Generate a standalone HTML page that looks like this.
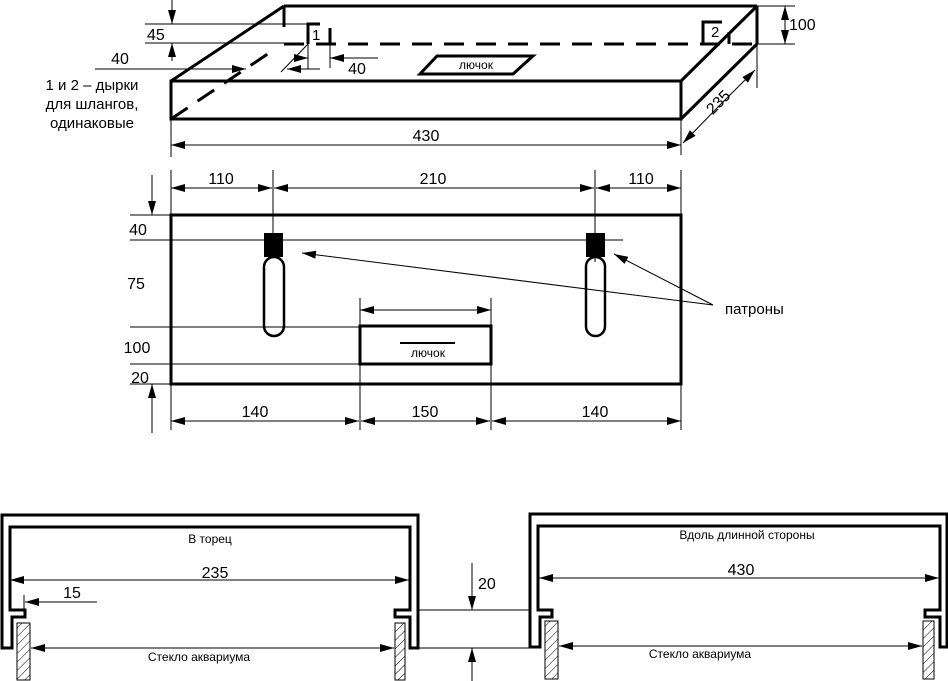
<!DOCTYPE html>
<html><head><meta charset="utf-8"><style>
html,body{margin:0;padding:0;background:#fff;}
svg{display:block;}
text{font-family:"Liberation Sans",Arial,sans-serif;fill:#000;}
</style></head><body>
<svg width="948" height="681" viewBox="0 0 948 681" xmlns="http://www.w3.org/2000/svg">
<defs>
<marker id="a" viewBox="0 0 14 8" refX="14" refY="4" markerWidth="14" markerHeight="8" markerUnits="userSpaceOnUse" orient="auto-start-reverse"><path d="M0,0 L14,4 L0,8 z" fill="#000"/></marker>
<pattern id="h" width="6" height="6" patternUnits="userSpaceOnUse" patternTransform="rotate(45)"><line x1="0" y1="0" x2="0" y2="6" stroke="#000" stroke-width="1"/></pattern>
</defs>
<g fill="none" stroke="#000">
<g stroke-width="3">
<rect x="171" y="81" width="510" height="38"/>
<line x1="171" y1="81" x2="284" y2="6"/>
<line x1="284" y1="6" x2="757" y2="6"/>
<line x1="757" y1="6" x2="757" y2="44"/>
<line x1="681" y1="81" x2="757" y2="6"/>
<line x1="681" y1="119" x2="757" y2="44"/>
<line x1="284" y1="6" x2="284" y2="27"/>
<line x1="284" y1="44" x2="757" y2="44" stroke-dasharray="20,12"/>
<line x1="171" y1="119" x2="275" y2="49" stroke-dasharray="20,12"/>
<polyline points="308,44 308,24 320,24"/>
<line x1="330" y1="28" x2="330" y2="44"/>
<polyline points="703,44 703,22 722,22"/>
<line x1="729" y1="32" x2="729" y2="44"/>
<polygon points="420,74 513,74 533,56 437,56"/>
</g>
<g stroke-width="1">
<line x1="145" y1="24" x2="320" y2="24"/>
<line x1="145" y1="43" x2="284" y2="43"/>
<line x1="172" y1="0" x2="172" y2="24" marker-end="url(#a)"/>
<line x1="172" y1="61" x2="172" y2="43" marker-end="url(#a)"/>
<line x1="95" y1="69" x2="246" y2="69" marker-end="url(#a)"/>
<line x1="320" y1="69" x2="287" y2="69" marker-end="url(#a)"/>
<line x1="308" y1="44" x2="308" y2="69"/>
<line x1="330" y1="28" x2="330" y2="68"/>
<line x1="281" y1="72" x2="308" y2="44"/>
<line x1="295" y1="58" x2="308" y2="58" marker-end="url(#a)"/>
<line x1="378" y1="58" x2="330" y2="58" marker-end="url(#a)"/>
<line x1="757" y1="6" x2="795" y2="6"/>
<line x1="757" y1="44" x2="795" y2="44"/>
<line x1="785" y1="25" x2="785" y2="6" marker-end="url(#a)"/>
<line x1="785" y1="25" x2="785" y2="44" marker-end="url(#a)"/>
<line x1="681" y1="119" x2="681" y2="155"/>
<line x1="757" y1="44" x2="757" y2="88"/>
<line x1="719" y1="106" x2="683" y2="143" marker-end="url(#a)"/>
<line x1="719" y1="106" x2="755" y2="70" marker-end="url(#a)"/>
<line x1="171" y1="119" x2="171" y2="157"/>
<line x1="426" y1="145" x2="171" y2="145" marker-end="url(#a)"/>
<line x1="426" y1="145" x2="681" y2="145" marker-end="url(#a)"/>
</g>
<rect x="171" y="215" width="510" height="169" stroke-width="3"/>
<rect x="360" y="326" width="131" height="38" stroke-width="3"/>
<line x1="400" y1="343" x2="455" y2="343" stroke-width="2"/>
<rect x="264" y="257" width="20" height="79" rx="10" stroke-width="2.5"/>
<rect x="586" y="257" width="19" height="79" rx="9.5" stroke-width="2.5"/>
<g stroke-width="1">
<line x1="171" y1="170" x2="171" y2="215"/>
<line x1="273" y1="170" x2="273" y2="252"/>
<line x1="595" y1="170" x2="595" y2="262"/>
<line x1="681" y1="170" x2="681" y2="430"/>
<line x1="221" y1="188" x2="171" y2="188" marker-end="url(#a)"/>
<line x1="221" y1="188" x2="272" y2="188" marker-end="url(#a)"/>
<line x1="433" y1="188" x2="274" y2="188" marker-end="url(#a)"/>
<line x1="433" y1="188" x2="594" y2="188" marker-end="url(#a)"/>
<line x1="641" y1="188" x2="596" y2="188" marker-end="url(#a)"/>
<line x1="641" y1="188" x2="681" y2="188" marker-end="url(#a)"/>
<line x1="130" y1="215" x2="171" y2="215"/>
<line x1="130" y1="240" x2="623" y2="240"/>
<line x1="130" y1="327" x2="360" y2="327"/>
<line x1="130" y1="364" x2="360" y2="364"/>
<line x1="130" y1="384" x2="171" y2="384"/>
<line x1="152" y1="175" x2="152" y2="215" marker-end="url(#a)"/>
<line x1="152" y1="433" x2="152" y2="384" marker-end="url(#a)"/>
<line x1="360" y1="298" x2="360" y2="430"/>
<line x1="491" y1="298" x2="491" y2="430"/>
<line x1="425" y1="310" x2="360" y2="310" marker-end="url(#a)"/>
<line x1="425" y1="310" x2="491" y2="310" marker-end="url(#a)"/>
<line x1="171" y1="384" x2="171" y2="430"/>
<line x1="255" y1="421" x2="171" y2="421" marker-end="url(#a)"/>
<line x1="255" y1="421" x2="359" y2="421" marker-end="url(#a)"/>
<line x1="425" y1="421" x2="361" y2="421" marker-end="url(#a)"/>
<line x1="425" y1="421" x2="490" y2="421" marker-end="url(#a)"/>
<line x1="595" y1="421" x2="492" y2="421" marker-end="url(#a)"/>
<line x1="595" y1="421" x2="681" y2="421" marker-end="url(#a)"/>
<line x1="713" y1="305" x2="302" y2="253" marker-end="url(#a)"/>
<line x1="713" y1="305" x2="614" y2="254" marker-end="url(#a)"/>
</g>
<path d="M2,648 L2,515 L418,515 L418,648 L410,648 L410,617 L395,617 L395,610 L410,610 L410,527 L10,527 L10,610 L25,610 L25,617 L12,617 L12,648 Z" stroke-width="3"/>
<path d="M530,647 L530,514 L947,514 L947,647 L940,647 L940,617 L925,617 L925,610 L940,610 L940,526 L538,526 L538,610 L552,610 L552,617 L540,617 L540,647 Z" stroke-width="3"/>
<g stroke-width="1">
<rect x="17" y="623" width="13" height="57" fill="url(#h)"/>
<rect x="395" y="623" width="10" height="57" fill="url(#h)"/>
<rect x="545" y="621" width="13" height="58" fill="url(#h)"/>
<rect x="923" y="621" width="11" height="58" fill="url(#h)"/>
<line x1="210" y1="580" x2="10" y2="580" marker-end="url(#a)"/>
<line x1="210" y1="580" x2="409" y2="580" marker-end="url(#a)"/>
<line x1="24" y1="595" x2="24" y2="612"/>
<line x1="97" y1="602" x2="25" y2="602" marker-end="url(#a)"/>
<line x1="210" y1="648" x2="31" y2="648" marker-end="url(#a)"/>
<line x1="210" y1="648" x2="394" y2="648" marker-end="url(#a)"/>
<line x1="418" y1="610" x2="530" y2="610"/>
<line x1="418" y1="648" x2="530" y2="648"/>
<line x1="472" y1="563" x2="472" y2="610" marker-end="url(#a)"/>
<line x1="472" y1="681" x2="472" y2="648" marker-end="url(#a)"/>
<line x1="740" y1="578" x2="539" y2="578" marker-end="url(#a)"/>
<line x1="740" y1="578" x2="939" y2="578" marker-end="url(#a)"/>
<line x1="740" y1="646" x2="559" y2="646" marker-end="url(#a)"/>
<line x1="740" y1="646" x2="922" y2="646" marker-end="url(#a)"/>
</g>
</g>
<rect x="264" y="233" width="19" height="24" fill="#000"/>
<rect x="586" y="233" width="19" height="24" fill="#000"/>
<g font-size="16">
<text x="147" y="40">45</text>
<text x="120" y="64" text-anchor="middle">40</text>
<text x="357" y="74" text-anchor="middle">40</text>
<text x="312" y="40" font-size="15">1</text>
<text x="711" y="37" font-size="15">2</text>
<text x="789" y="30">100</text>
<text x="426" y="141" text-anchor="middle">430</text>
<text x="0" y="0" transform="translate(722,106) rotate(-45)" text-anchor="middle">235</text>
<text x="221" y="184" text-anchor="middle">110</text>
<text x="433" y="184" text-anchor="middle">210</text>
<text x="641" y="184" text-anchor="middle">110</text>
<text x="138" y="235" text-anchor="middle">40</text>
<text x="136" y="289" text-anchor="middle">75</text>
<text x="137" y="353" text-anchor="middle">100</text>
<text x="140" y="383" text-anchor="middle">20</text>
<text x="255" y="417" text-anchor="middle">140</text>
<text x="425" y="417" text-anchor="middle">150</text>
<text x="595" y="417" text-anchor="middle">140</text>
<text x="725" y="314" font-size="15">патроны</text>
<text x="215" y="578" text-anchor="middle">235</text>
<text x="72" y="598" text-anchor="middle">15</text>
<text x="478" y="589">20</text>
<text x="741" y="575" text-anchor="middle">430</text>
</g>
<g font-size="15">
<text x="92" y="90" text-anchor="middle">1 и 2 – дырки</text>
<text x="92" y="109" text-anchor="middle">для шлангов,</text>
<text x="92" y="128" text-anchor="middle">одинаковые</text>
</g>
<g font-size="12">
<text x="476" y="69" text-anchor="middle">лючок</text>
<text x="428" y="357" text-anchor="middle">лючок</text>
<text x="210" y="543" text-anchor="middle">В торец</text>
<text x="747" y="539" text-anchor="middle">Вдоль длинной стороны</text>
<text x="199" y="661" text-anchor="middle">Стекло аквариума</text>
<text x="700" y="658" text-anchor="middle">Стекло аквариума</text>
</g>
</svg>
</body></html>
